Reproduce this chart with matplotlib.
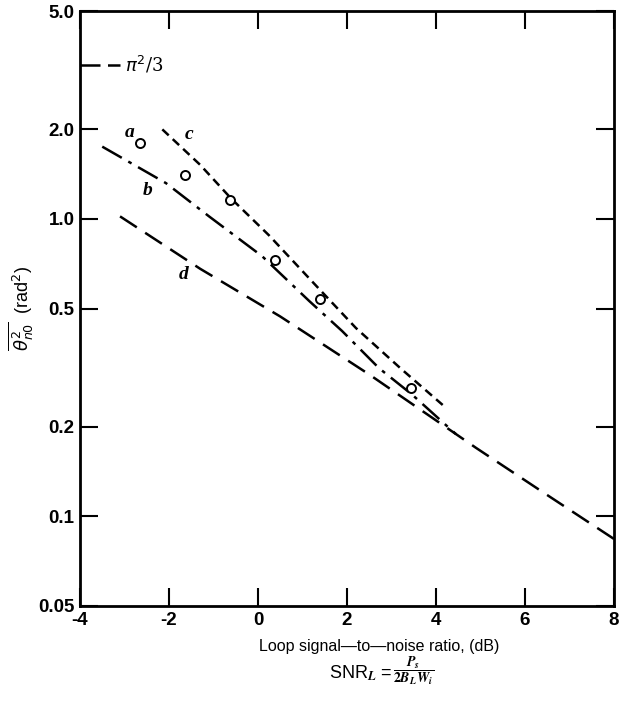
import numpy as np
import matplotlib
matplotlib.use("Agg")
import matplotlib.pyplot as plt
from matplotlib.ticker import FixedLocator, NullLocator

# curve values (x in dB, y in rad^2)
b_x = [-3.5, -2.07, -1.1, 0.09, 1.15, 1.89, 2.72, 3.46, 4.45]
b_y = [1.75, 1.32, 1.02, 0.75, 0.53, 0.42, 0.315, 0.257, 0.189]

c_x = [-2.15, -1.3, -0.6, 0.25, 1.2, 2.2, 3.2, 4.15]
c_y = [2.0, 1.52, 1.17, 0.88, 0.62, 0.43, 0.315, 0.237]

d_x = [-3.1, -1.3, 0.5, 2.5, 4.9, 6.5, 8.0]
d_y = [1.02, 0.68, 0.47, 0.30, 0.17, 0.118, 0.084]

a_x = [-2.65, -1.64, -0.63, 0.38, 1.39, 3.44]
a_y = [1.80, 1.41, 1.16, 0.73, 0.54, 0.27]

pi_level = np.pi ** 2 / 3

x_ticks = [-4, -2, 0, 2, 4, 6, 8]
y_ticks = [0.05, 0.1, 0.2, 0.5, 1.0, 2.0, 5.0]
y_ticklabels = ["0.05", "0.1", "0.2", "0.5", "1.0", "2.0", "5.0"]

plt.rcParams['font.family'] = ['Liberation Sans', 'DejaVu Sans']

fig = plt.figure(figsize=(6.2, 7.13), dpi=100)
ax = fig.add_axes([80 / 620, 1 - 606 / 713, 534 / 620, 595 / 713])

ax.set_yscale('log')
ax.set_xlim(-4, 8)
ax.set_ylim(0.05, 5.0)

lw = 1.8
ax.plot(b_x, b_y, color='black', lw=lw, dashes=(9, 3, 1.5, 3))
ax.plot(c_x, c_y, color='black', lw=lw, dashes=(3.5, 2.2))
ax.plot(d_x, d_y, color='black', lw=lw, dashes=(8, 4))
ax.plot(a_x, a_y, 'o', color='black', mfc='white', mec='black', ms=6.5, mew=1.4)

# pi^2/3 marker at left edge
ax.plot([-4, -3.1], [pi_level, pi_level], color='black', lw=lw, dashes=(8, 3))
ax.text(-2.98, pi_level, r'$\pi^2$/3', fontsize=13, va='center', ha='left',
        family=['DejaVu Serif'])

lab = dict(fontsize=14, style='italic', weight='bold', family=['Liberation Serif'],
           ha='center', va='center')
ax.text(-2.88, 1.95, 'a', **lab)
ax.text(-1.55, 1.92, 'c', **lab)
ax.text(-2.47, 1.25, 'b', **lab)
ax.text(-1.66, 0.65, 'd', **lab)

ax.xaxis.set_major_locator(FixedLocator(x_ticks))
ax.set_xticklabels([str(t) for t in x_ticks])
ax.yaxis.set_major_locator(FixedLocator(y_ticks))
ax.yaxis.set_minor_locator(NullLocator())
ax.set_yticklabels(y_ticklabels)
ax.tick_params(which='both', direction='in', top=True, right=True,
               length=13, width=1.5, labelsize=13.5, pad=4)
for lbl in ax.get_xticklabels() + ax.get_yticklabels():
    lbl.set_fontweight('bold')
for s in ax.spines.values():
    s.set_linewidth(2)

ax.set_ylabel(r'$\overline{\theta^2_{n0}}$  (rad$^2$)', fontsize=13, labelpad=2)
fig.text(379 / 620, 1 - 647 / 713, 'Loop signal\u2014to\u2014noise ratio, (dB)',
         fontsize=11.5, ha='center', va='center')
fig.text(393 / 620, 1 - 673 / 713, r'SNR$_{\mathbfit{L}}$ = ',
         fontsize=13, ha='right', va='center', math_fontfamily='stix')
fig.text(414 / 620, 1 - 671 / 713,
         r'$\dfrac{\mathbfit{P_s}}{\mathbf{2}\mathbfit{B_L W_i}}$',
         fontsize=10, ha='center', va='center', math_fontfamily='stix')

fig.savefig('out.png', dpi=100)
